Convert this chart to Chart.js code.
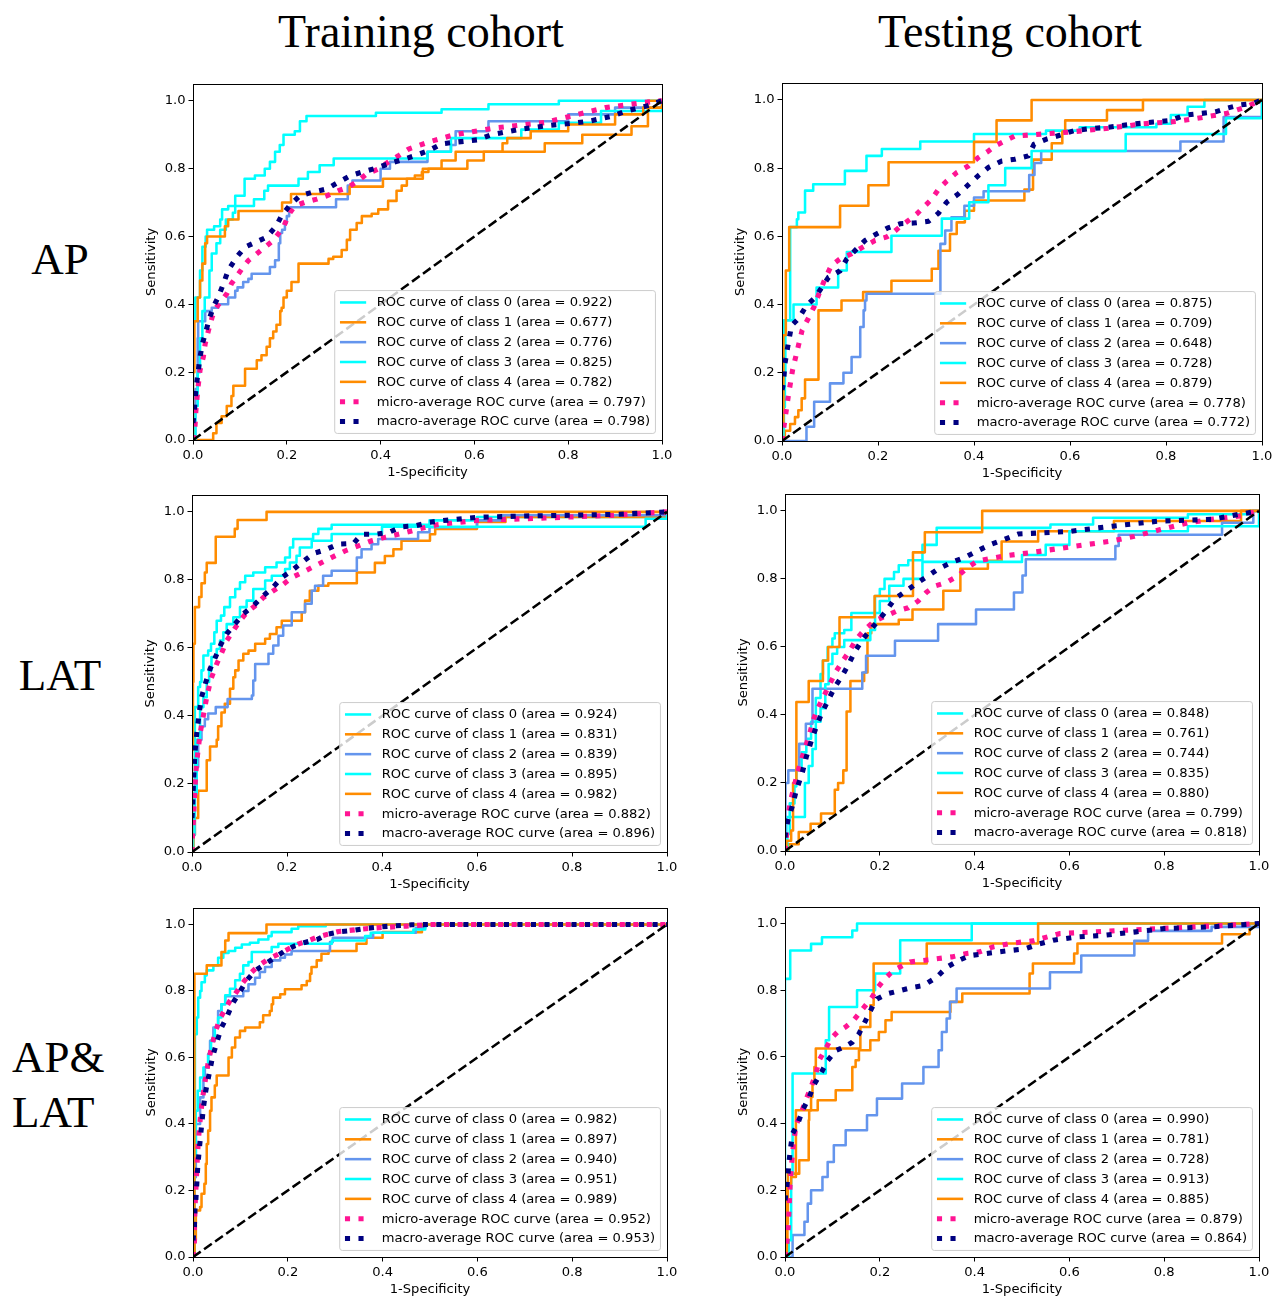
<!DOCTYPE html>
<html>
<head>
<meta charset="utf-8">
<title>ROC curves</title>
<script src="https://cdn.jsdelivr.net/npm/chart.js@4.4.0/dist/chart.umd.min.js"></script>
<style>
  body { margin: 0; background: #fff; }
  #fig { position: relative; width: 1280px; height: 1299px; overflow: hidden; background: #fff; }
  .head, .row { position: absolute; font-family: "Liberation Serif", "Times New Roman", serif; color: #000; white-space: nowrap; }
  .head { font-size: 46px; line-height: 46px; width: 400px; text-align: center; }
  .row { font-size: 45px; line-height: 45px; }
  canvas { position: absolute; }
</style>
</head>
<body>
<div id="fig">
  <div class="head" style="left:221px; top:9px;">Training cohort</div>
  <div class="head" style="left:810px; top:9px;">Testing cohort</div>
  <div class="row" style="left:0; width:120px; text-align:center; top:237px;">AP</div>
  <div class="row" style="left:0; width:120px; text-align:center; top:653px;">LAT</div>
  <div class="row" style="left:12px; top:1030px; line-height:55px;">AP&amp;<br>LAT</div>
</div>
<script>
// tick labels shared by both axes
const TICKS = [0, 0.2, 0.4, 0.6, 0.8, 1.0];

// ---- Training cohort, AP ----
const trainAP0 = [[0,0],[0,0.35],[0.005,0.42],[0.015,0.5],[0.02,0.57],[0.027,0.6],[0.03,0.62],[0.045,0.63],[0.058,0.65],[0.062,0.68],[0.075,0.69],[0.09,0.72],[0.11,0.77],[0.132,0.78],[0.153,0.8],[0.164,0.82],[0.175,0.85],[0.185,0.87],[0.193,0.9],[0.217,0.91],[0.228,0.94],[0.242,0.955],[0.39,0.965],[0.53,0.975],[0.63,0.99],[0.78,1],[1,1]];
const trainAP1 = [[0,0],[0.036,0],[0.043,0.02],[0.05,0.05],[0.061,0.07],[0.072,0.1],[0.082,0.13],[0.086,0.16],[0.111,0.21],[0.136,0.235],[0.146,0.25],[0.157,0.275],[0.164,0.3],[0.171,0.32],[0.178,0.34],[0.186,0.38],[0.189,0.39],[0.193,0.42],[0.2,0.44],[0.21,0.466],[0.225,0.52],[0.289,0.534],[0.299,0.54],[0.317,0.56],[0.328,0.59],[0.335,0.62],[0.349,0.64],[0.36,0.66],[0.381,0.667],[0.395,0.68],[0.416,0.705],[0.434,0.735],[0.445,0.75],[0.456,0.77],[0.473,0.78],[0.488,0.79],[0.502,0.8],[0.585,0.824],[0.62,0.85],[0.75,0.875],[0.83,0.9],[0.935,0.925],[0.97,1],[1,1]];
const trainAP2 = [[0,0],[0.005,0.15],[0.01,0.3],[0.011,0.35],[0.026,0.38],[0.04,0.39],[0.054,0.4],[0.075,0.42],[0.09,0.44],[0.095,0.45],[0.107,0.466],[0.118,0.475],[0.125,0.49],[0.164,0.51],[0.175,0.53],[0.183,0.58],[0.186,0.61],[0.19,0.62],[0.196,0.64],[0.2,0.66],[0.205,0.686],[0.305,0.71],[0.33,0.75],[0.34,0.765],[0.4,0.8],[0.42,0.82],[0.5,0.85],[0.55,0.87],[0.56,0.91],[0.63,0.94],[0.8,0.96],[0.9,0.98],[1,1]];
const trainAP3 = [[0,0],[0.005,0.1],[0.01,0.2],[0.015,0.3],[0.02,0.38],[0.025,0.42],[0.035,0.5],[0.04,0.55],[0.05,0.58],[0.058,0.62],[0.07,0.65],[0.085,0.67],[0.09,0.69],[0.13,0.71],[0.152,0.735],[0.16,0.75],[0.225,0.77],[0.245,0.79],[0.27,0.81],[0.3,0.83],[0.5,0.85],[0.55,0.89],[0.7,0.915],[0.78,0.935],[0.87,0.97],[1,0.98],[1,1]];
const trainAP4 = [[0,0],[0,0.2],[0.003,0.35],[0.01,0.42],[0.015,0.47],[0.02,0.52],[0.026,0.58],[0.03,0.6],[0.068,0.63],[0.075,0.65],[0.097,0.675],[0.19,0.7],[0.209,0.725],[0.334,0.747],[0.405,0.77],[0.49,0.8],[0.53,0.824],[0.56,0.85],[0.66,0.875],[0.67,0.89],[0.72,0.91],[0.8,0.93],[0.9,0.96],[0.96,0.98],[1,1]];
const trainAPMicro = [[0,0],[0.004,0.034],[0.006,0.083],[0.01,0.147],[0.015,0.206],[0.022,0.245],[0.026,0.284],[0.033,0.323],[0.041,0.363],[0.048,0.387],[0.061,0.412],[0.072,0.431],[0.082,0.461],[0.097,0.49],[0.107,0.51],[0.118,0.529],[0.136,0.549],[0.154,0.569],[0.171,0.588],[0.182,0.608],[0.193,0.627],[0.2,0.652],[0.207,0.671],[0.217,0.69],[0.239,0.701],[0.264,0.71],[0.285,0.72],[0.31,0.735],[0.331,0.745],[0.353,0.765],[0.37,0.784],[0.395,0.799],[0.416,0.819],[0.438,0.838],[0.46,0.858],[0.506,0.88],[0.557,0.9],[0.643,0.92],[0.75,0.936],[0.88,0.98],[0.96,0.995],[1,1]];
const trainAPMacro = [[0,0.05],[0.003,0.088],[0.006,0.147],[0.01,0.191],[0.015,0.245],[0.02,0.284],[0.028,0.323],[0.036,0.363],[0.045,0.397],[0.054,0.422],[0.065,0.461],[0.075,0.5],[0.093,0.539],[0.111,0.569],[0.132,0.582],[0.157,0.598],[0.178,0.632],[0.189,0.662],[0.209,0.696],[0.228,0.72],[0.253,0.73],[0.285,0.74],[0.31,0.76],[0.335,0.779],[0.363,0.791],[0.392,0.802],[0.416,0.814],[0.445,0.826],[0.473,0.838],[0.502,0.853],[0.53,0.873],[0.553,0.877],[0.607,0.885],[0.636,0.9],[0.694,0.915],[0.75,0.926],[0.816,0.935],[0.845,0.94],[0.895,0.955],[0.924,0.97],[0.968,0.985],[1,1]];
const trainAPAreas = [0.922, 0.677, 0.776, 0.825, 0.782, 0.797, 0.798];

// ---- Testing cohort, AP ----
const testAP0 = [[0,0],[0.004,0.354],[0.017,0.627],[0.031,0.65],[0.034,0.67],[0.048,0.734],[0.065,0.753],[0.131,0.792],[0.176,0.836],[0.208,0.856],[0.288,0.878],[0.4,0.9],[0.55,0.91],[0.62,0.92],[0.78,0.93],[0.81,0.956],[0.845,0.98],[0.88,1],[1,1]];
const testAP1 = [[0,0],[0.003,0],[0.006,0.03],[0.017,0.05],[0.027,0.07],[0.034,0.09],[0.041,0.125],[0.048,0.18],[0.076,0.383],[0.124,0.412],[0.169,0.437],[0.228,0.47],[0.312,0.505],[0.326,0.558],[0.35,0.607],[0.364,0.641],[0.381,0.675],[0.4,0.705],[0.505,0.737],[0.523,0.825],[0.562,0.873],[0.584,0.907],[0.59,0.94],[0.677,0.97],[0.752,1],[1,1]];
const testAP2 = [[0,0],[0.051,0],[0.051,0.042],[0.067,0.115],[0.1,0.169],[0.128,0.2],[0.145,0.246],[0.163,0.334],[0.17,0.383],[0.173,0.412],[0.176,0.432],[0.33,0.578],[0.34,0.617],[0.353,0.656],[0.38,0.69],[0.4,0.714],[0.42,0.732],[0.515,0.78],[0.526,0.815],[0.54,0.85],[0.83,0.878],[0.92,0.95],[1,1]];
const testAP3 = [[0,0],[0.003,0.1],[0.006,0.2],[0.007,0.354],[0.024,0.4],[0.072,0.45],[0.117,0.5],[0.135,0.554],[0.228,0.602],[0.333,0.652],[0.39,0.7],[0.43,0.75],[0.465,0.8],[0.52,0.85],[0.716,0.9],[0.925,0.946],[1,1]];
const testAP4 = [[0,0],[0,0.05],[0.003,0.31],[0.008,0.5],[0.015,0.627],[0.121,0.69],[0.18,0.75],[0.222,0.817],[0.4,0.877],[0.447,0.94],[0.52,1],[1,1]];
const testAPMicro = [[0,0],[0.003,0.032],[0.006,0.061],[0.013,0.13],[0.022,0.208],[0.031,0.261],[0.042,0.325],[0.055,0.36],[0.067,0.394],[0.076,0.428],[0.09,0.477],[0.103,0.515],[0.121,0.534],[0.145,0.549],[0.169,0.569],[0.194,0.588],[0.218,0.598],[0.228,0.607],[0.249,0.632],[0.263,0.646],[0.281,0.666],[0.298,0.69],[0.312,0.709],[0.326,0.738],[0.343,0.762],[0.364,0.787],[0.388,0.806],[0.409,0.831],[0.43,0.85],[0.444,0.865],[0.465,0.88],[0.485,0.894],[0.609,0.907],[0.68,0.917],[0.752,0.93],[0.824,0.937],[0.882,0.95],[0.925,0.96],[0.968,0.98],[1,1]];
const testAPMacro = [[0,0.15],[0.003,0.168],[0.006,0.226],[0.013,0.285],[0.02,0.339],[0.034,0.358],[0.051,0.397],[0.069,0.421],[0.097,0.48],[0.121,0.499],[0.135,0.534],[0.152,0.558],[0.173,0.588],[0.194,0.605],[0.221,0.625],[0.246,0.637],[0.274,0.639],[0.305,0.644],[0.326,0.668],[0.343,0.7],[0.367,0.724],[0.388,0.751],[0.409,0.778],[0.43,0.802],[0.458,0.821],[0.485,0.826],[0.513,0.836],[0.525,0.87],[0.551,0.885],[0.58,0.897],[0.609,0.91],[0.637,0.915],[0.68,0.92],[0.724,0.928],[0.774,0.935],[0.81,0.94],[0.838,0.955],[0.871,0.96],[0.903,0.965],[0.925,0.975],[0.953,0.985],[0.982,0.99],[1,1]];
const testAPAreas = [0.875, 0.709, 0.648, 0.728, 0.879, 0.778, 0.772];

// ---- Training cohort, LAT ----
const trainLAT0 = [[0,0],[0.003,0.05],[0.006,0.426],[0.013,0.485],[0.017,0.5],[0.02,0.534],[0.024,0.578],[0.034,0.592],[0.04,0.612],[0.047,0.646],[0.052,0.68],[0.061,0.695],[0.068,0.72],[0.08,0.749],[0.091,0.773],[0.101,0.793],[0.112,0.812],[0.129,0.822],[0.154,0.837],[0.178,0.851],[0.196,0.866],[0.206,0.895],[0.213,0.92],[0.255,0.935],[0.266,0.95],[0.294,0.962],[0.5,0.975],[0.6,0.985],[1,1]];
const trainLAT1 = [[0,0],[0.003,0.05],[0.006,0.1],[0.013,0.18],[0.031,0.27],[0.038,0.31],[0.052,0.33],[0.055,0.37],[0.062,0.41],[0.069,0.436],[0.08,0.48],[0.087,0.514],[0.091,0.534],[0.098,0.563],[0.108,0.583],[0.119,0.592],[0.133,0.612],[0.154,0.627],[0.164,0.641],[0.178,0.661],[0.189,0.68],[0.231,0.705],[0.238,0.739],[0.248,0.768],[0.266,0.783],[0.287,0.79],[0.347,0.822],[0.385,0.85],[0.406,0.87],[0.424,0.89],[0.441,0.915],[0.501,0.934],[0.512,0.95],[0.6,0.97],[0.66,0.985],[1,1]];
const trainLAT2 = [[0,0],[0.001,0.05],[0.005,0.172],[0.008,0.25],[0.013,0.33],[0.02,0.37],[0.027,0.39],[0.034,0.407],[0.05,0.426],[0.075,0.45],[0.126,0.46],[0.129,0.504],[0.133,0.553],[0.161,0.583],[0.171,0.607],[0.182,0.636],[0.192,0.666],[0.21,0.705],[0.238,0.73],[0.252,0.768],[0.259,0.783],[0.276,0.812],[0.294,0.827],[0.347,0.866],[0.357,0.89],[0.378,0.905],[0.392,0.92],[0.476,0.94],[0.5,0.955],[0.6,0.975],[0.65,0.99],[1,1]];
const trainLAT3 = [[0,0],[0.002,0.05],[0.005,0.172],[0.01,0.33],[0.017,0.426],[0.024,0.455],[0.031,0.5],[0.036,0.534],[0.041,0.573],[0.052,0.597],[0.059,0.622],[0.066,0.646],[0.073,0.67],[0.087,0.69],[0.101,0.72],[0.115,0.739],[0.129,0.773],[0.154,0.798],[0.168,0.812],[0.196,0.832],[0.206,0.851],[0.22,0.871],[0.227,0.895],[0.252,0.915],[0.294,0.935],[0.4,0.956],[0.955,0.98],[1,1]];
const trainLAT4 = [[0,0],[0,0.3],[0.002,0.5],[0.003,0.612],[0.006,0.72],[0.015,0.75],[0.02,0.79],[0.027,0.822],[0.031,0.85],[0.05,0.927],[0.09,0.95],[0.096,0.976],[0.157,1],[1,1]];
const trainLATMicro = [[0,0],[0.001,0.045],[0.003,0.094],[0.005,0.153],[0.008,0.232],[0.012,0.29],[0.017,0.348],[0.024,0.402],[0.031,0.455],[0.04,0.509],[0.052,0.553],[0.063,0.587],[0.073,0.621],[0.087,0.651],[0.101,0.68],[0.115,0.704],[0.133,0.724],[0.15,0.748],[0.171,0.768],[0.192,0.787],[0.21,0.807],[0.231,0.821],[0.252,0.836],[0.273,0.851],[0.294,0.866],[0.322,0.885],[0.35,0.9],[0.378,0.915],[0.406,0.925],[0.434,0.934],[0.462,0.944],[0.49,0.954],[0.519,0.963],[0.602,0.975],[0.744,0.982],[0.886,0.99],[1,1]];
const trainLATMacro = [[0,0.1],[0.001,0.123],[0.003,0.201],[0.006,0.289],[0.01,0.348],[0.015,0.407],[0.02,0.455],[0.029,0.499],[0.038,0.538],[0.049,0.572],[0.061,0.611],[0.073,0.641],[0.09,0.67],[0.108,0.7],[0.129,0.724],[0.15,0.753],[0.171,0.779],[0.189,0.807],[0.21,0.827],[0.231,0.851],[0.256,0.878],[0.28,0.888],[0.308,0.905],[0.34,0.907],[0.357,0.934],[0.385,0.934],[0.413,0.939],[0.441,0.956],[0.47,0.959],[0.498,0.969],[0.526,0.974],[0.602,0.984],[0.7,0.988],[0.8,0.99],[0.9,0.993],[1,1]];
const trainLATAreas = [0.924, 0.831, 0.839, 0.895, 0.982, 0.882, 0.896];

// ---- Testing cohort, LAT ----
const testLAT0 = [[0,0],[0.003,0.1],[0.01,0.14],[0.02,0.19],[0.024,0.24],[0.035,0.29],[0.045,0.33],[0.055,0.38],[0.065,0.45],[0.075,0.52],[0.08,0.56],[0.09,0.6],[0.1,0.625],[0.105,0.64],[0.125,0.65],[0.14,0.7],[0.19,0.75],[0.2,0.77],[0.21,0.8],[0.23,0.82],[0.24,0.84],[0.26,0.855],[0.29,0.9],[0.32,0.95],[0.56,0.96],[0.65,0.98],[0.85,0.99],[0.98,1],[1,1]];
const testLAT1 = [[0,0],[0.007,0],[0.007,0.02],[0.029,0.056],[0.054,0.08],[0.076,0.11],[0.105,0.18],[0.112,0.2],[0.123,0.237],[0.13,0.41],[0.138,0.5],[0.167,0.525],[0.174,0.64],[0.182,0.667],[0.24,0.68],[0.269,0.71],[0.334,0.765],[0.37,0.83],[0.428,0.853],[0.457,0.91],[0.534,0.94],[0.694,0.97],[0.962,1],[1,1]];
const testLAT2 = [[0,0],[0.001,0.2],[0.007,0.237],[0.03,0.315],[0.044,0.374],[0.058,0.477],[0.163,0.525],[0.171,0.574],[0.232,0.618],[0.323,0.667],[0.403,0.71],[0.483,0.76],[0.501,0.81],[0.508,0.858],[0.697,0.897],[0.704,0.93],[0.922,0.965],[0.988,1],[1,1]];
const testLAT3 = [[0,0],[0.005,0.05],[0.01,0.1],[0.042,0.2],[0.05,0.25],[0.058,0.3],[0.065,0.38],[0.075,0.42],[0.085,0.49],[0.092,0.55],[0.1,0.58],[0.11,0.6],[0.125,0.62],[0.18,0.65],[0.19,0.7],[0.2,0.735],[0.22,0.78],[0.25,0.8],[0.29,0.85],[0.5,0.87],[0.55,0.9],[0.6,0.94],[0.85,0.955],[1,1]];
const testLAT4 = [[0,0],[0.003,0.03],[0.013,0.06],[0.017,0.2],[0.024,0.438],[0.05,0.5],[0.08,0.56],[0.091,0.6],[0.115,0.687],[0.189,0.75],[0.27,0.878],[0.295,0.937],[0.416,1],[1,1]];
const testLATMicro = [[0,0],[0.003,0.042],[0.006,0.101],[0.012,0.15],[0.019,0.188],[0.026,0.227],[0.034,0.266],[0.043,0.305],[0.052,0.344],[0.059,0.383],[0.07,0.422],[0.084,0.461],[0.094,0.49],[0.108,0.529],[0.122,0.559],[0.136,0.588],[0.15,0.622],[0.168,0.651],[0.189,0.676],[0.211,0.69],[0.235,0.705],[0.26,0.715],[0.281,0.735],[0.298,0.76],[0.316,0.779],[0.34,0.789],[0.365,0.809],[0.386,0.834],[0.407,0.853],[0.465,0.868],[0.523,0.878],[0.581,0.89],[0.632,0.9],[0.683,0.91],[0.737,0.925],[0.792,0.945],[0.85,0.965],[0.9,0.975],[0.959,0.985],[1,1]];
const testLATMacro = [[0,0.04],[0.001,0.052],[0.006,0.091],[0.015,0.13],[0.024,0.179],[0.036,0.228],[0.045,0.277],[0.056,0.326],[0.066,0.365],[0.077,0.404],[0.091,0.443],[0.105,0.482],[0.119,0.511],[0.133,0.546],[0.147,0.585],[0.162,0.619],[0.179,0.648],[0.197,0.678],[0.214,0.707],[0.231,0.741],[0.256,0.765],[0.281,0.79],[0.302,0.809],[0.323,0.829],[0.351,0.848],[0.379,0.863],[0.407,0.883],[0.435,0.902],[0.464,0.917],[0.492,0.932],[0.537,0.935],[0.603,0.94],[0.69,0.955],[0.79,0.97],[0.9,0.975],[0.959,0.99],[1,1]];
const testLATAreas = [0.848, 0.761, 0.744, 0.835, 0.880, 0.799, 0.818];

// ---- Training cohort, AP&LAT ----
const trainAll0 = [[0,0],[0.003,0.34],[0.004,0.67],[0.008,0.72],[0.011,0.78],[0.015,0.8],[0.018,0.826],[0.025,0.847],[0.029,0.862],[0.043,0.877],[0.053,0.9],[0.064,0.914],[0.075,0.92],[0.089,0.93],[0.103,0.94],[0.12,0.945],[0.138,0.955],[0.159,0.965],[0.166,0.977],[0.208,0.987],[0.222,0.995],[0.28,1],[1,1]];
const trainAll1 = [[0,0],[0.003,0.05],[0.006,0.14],[0.015,0.15],[0.018,0.19],[0.024,0.22],[0.027,0.28],[0.029,0.34],[0.032,0.38],[0.036,0.44],[0.039,0.48],[0.046,0.516],[0.05,0.546],[0.075,0.6],[0.082,0.63],[0.089,0.66],[0.099,0.68],[0.11,0.69],[0.141,0.706],[0.148,0.727],[0.162,0.74],[0.166,0.76],[0.169,0.78],[0.184,0.79],[0.194,0.805],[0.229,0.817],[0.24,0.83],[0.247,0.852],[0.25,0.872],[0.261,0.892],[0.271,0.912],[0.286,0.92],[0.345,0.942],[0.366,0.96],[0.4,0.977],[0.483,1],[1,1]];
const trainAll2 = [[0,0],[0.002,0.1],[0.003,0.24],[0.006,0.4],[0.015,0.48],[0.022,0.54],[0.025,0.57],[0.032,0.61],[0.036,0.65],[0.043,0.69],[0.053,0.74],[0.06,0.76],[0.068,0.784],[0.106,0.8],[0.117,0.82],[0.131,0.84],[0.141,0.857],[0.152,0.872],[0.166,0.892],[0.184,0.9],[0.194,0.91],[0.208,0.92],[0.289,0.947],[0.295,0.96],[0.38,0.975],[0.47,0.99],[0.49,1],[1,1]];
const trainAll3 = [[0,0],[0.002,0.2],[0.003,0.3],[0.006,0.44],[0.01,0.5],[0.015,0.54],[0.022,0.57],[0.032,0.61],[0.038,0.65],[0.046,0.69],[0.053,0.72],[0.06,0.76],[0.068,0.787],[0.078,0.807],[0.089,0.832],[0.099,0.852],[0.106,0.877],[0.117,0.887],[0.124,0.917],[0.166,0.932],[0.18,0.942],[0.293,0.952],[0.363,0.965],[0.375,0.975],[0.465,0.985],[0.49,1],[1,1]];
const trainAll4 = [[0,0],[0.003,0.852],[0.029,0.877],[0.06,0.917],[0.068,0.952],[0.075,0.974],[0.155,1],[1,1]];
const trainAllMicro = [[0,0],[0.003,0.031],[0.003,0.081],[0.004,0.141],[0.006,0.201],[0.008,0.261],[0.01,0.32],[0.013,0.38],[0.017,0.44],[0.022,0.495],[0.027,0.54],[0.032,0.585],[0.039,0.631],[0.046,0.671],[0.055,0.711],[0.066,0.741],[0.078,0.771],[0.089,0.791],[0.103,0.821],[0.12,0.851],[0.138,0.876],[0.159,0.896],[0.18,0.911],[0.201,0.926],[0.222,0.941],[0.243,0.951],[0.264,0.963],[0.285,0.971],[0.307,0.979],[0.335,0.983],[0.377,0.989],[0.45,0.995],[0.5,1],[1,1]];
const trainAllMacro = [[0,0.05],[0.003,0.091],[0.004,0.141],[0.006,0.171],[0.008,0.221],[0.01,0.271],[0.013,0.32],[0.017,0.38],[0.022,0.45],[0.027,0.5],[0.034,0.55],[0.041,0.6],[0.05,0.645],[0.06,0.69],[0.071,0.721],[0.085,0.766],[0.096,0.791],[0.113,0.831],[0.131,0.861],[0.152,0.881],[0.173,0.901],[0.194,0.921],[0.215,0.936],[0.236,0.946],[0.264,0.956],[0.285,0.971],[0.314,0.979],[0.342,0.983],[0.37,0.989],[0.398,0.993],[0.426,0.996],[0.461,0.999],[0.5,1],[1,1]];
const trainAllAreas = [0.982, 0.897, 0.940, 0.951, 0.989, 0.952, 0.953];

// ---- Testing cohort, AP&LAT ----
const testAll0 = [[0,0],[0,0.834],[0.011,0.919],[0.055,0.939],[0.078,0.959],[0.142,0.979],[0.152,1],[1,1]];
const testAll1 = [[0,0],[0.005,0.1],[0.006,0.25],[0.03,0.29],[0.05,0.41],[0.051,0.44],[0.069,0.47],[0.107,0.5],[0.142,0.57],[0.149,0.59],[0.156,0.62],[0.18,0.65],[0.198,0.675],[0.212,0.71],[0.225,0.735],[0.349,0.765],[0.374,0.79],[0.516,0.85],[0.523,0.88],[0.61,0.91],[0.617,0.94],[0.922,0.968],[0.98,1],[1,1]];
const testAll2 = [[0,0],[0.008,0],[0.016,0.066],[0.041,0.106],[0.048,0.16],[0.055,0.2],[0.079,0.24],[0.09,0.285],[0.103,0.335],[0.128,0.38],[0.173,0.425],[0.194,0.475],[0.247,0.52],[0.292,0.57],[0.324,0.62],[0.331,0.675],[0.341,0.715],[0.348,0.765],[0.362,0.805],[0.559,0.854],[0.625,0.904],[0.737,0.948],[0.766,0.978],[0.9,0.99],[1,1]];
const testAll3 = [[0,0],[0.008,0.05],[0.013,0.25],[0.016,0.55],[0.086,0.65],[0.093,0.75],[0.152,0.8],[0.19,0.85],[0.243,0.95],[0.394,1],[1,1]];
const testAll4 = [[0,0],[0.004,0.22],[0.013,0.24],[0.023,0.44],[0.055,0.48],[0.058,0.52],[0.062,0.57],[0.065,0.625],[0.159,0.69],[0.18,0.755],[0.187,0.88],[0.299,0.94],[0.534,1],[1,1]];
const testAllMicro = [[0,0],[0.004,0.041],[0.007,0.091],[0.009,0.16],[0.011,0.22],[0.014,0.28],[0.018,0.34],[0.023,0.395],[0.034,0.431],[0.044,0.471],[0.055,0.51],[0.065,0.55],[0.072,0.59],[0.086,0.625],[0.097,0.655],[0.111,0.675],[0.128,0.69],[0.145,0.71],[0.159,0.735],[0.173,0.76],[0.184,0.78],[0.194,0.805],[0.208,0.83],[0.222,0.85],[0.236,0.865],[0.264,0.885],[0.296,0.89],[0.324,0.895],[0.352,0.9],[0.383,0.91],[0.411,0.915],[0.439,0.93],[0.474,0.94],[0.502,0.945],[0.523,0.948],[0.58,0.97],[0.654,0.975],[0.719,0.98],[0.79,0.985],[0.864,0.99],[0.937,0.995],[1,1]];
const testAllMacro = [[0,0.17],[0.004,0.211],[0.007,0.261],[0.011,0.32],[0.016,0.37],[0.027,0.4],[0.037,0.44],[0.051,0.479],[0.062,0.519],[0.075,0.549],[0.09,0.589],[0.107,0.619],[0.124,0.629],[0.142,0.644],[0.156,0.669],[0.17,0.709],[0.184,0.749],[0.194,0.774],[0.215,0.789],[0.243,0.799],[0.271,0.809],[0.292,0.814],[0.32,0.839],[0.341,0.869],[0.366,0.889],[0.39,0.904],[0.418,0.909],[0.446,0.914],[0.474,0.919],[0.506,0.924],[0.537,0.939],[0.566,0.95],[0.617,0.96],[0.675,0.965],[0.74,0.975],[0.8,0.985],[0.9,0.99],[1,1]];
const testAllAreas = [0.990, 0.781, 0.728, 0.913, 0.885, 0.879, 0.864];

// pixel box of each axes: [left(x=0), right(x=1), top(y=1.05), bottom(y=0)]
const panels = [
  { curves: [trainAP0, trainAP1, trainAP2, trainAP3, trainAP4, trainAPMicro, trainAPMacro], areas: trainAPAreas, box: [193, 662, 83, 440] },
  { curves: [testAP0, testAP1, testAP2, testAP3, testAP4, testAPMicro, testAPMacro], areas: testAPAreas, box: [782, 1262, 82, 441] },
  { curves: [trainLAT0, trainLAT1, trainLAT2, trainLAT3, trainLAT4, trainLATMicro, trainLATMacro], areas: trainLATAreas, box: [192, 667, 494, 852] },
  { curves: [testLAT0, testLAT1, testLAT2, testLAT3, testLAT4, testLATMicro, testLATMacro], areas: testLATAreas, box: [785, 1259, 493, 851] },
  { curves: [trainAll0, trainAll1, trainAll2, trainAll3, trainAll4, trainAllMicro, trainAllMacro], areas: trainAllAreas, box: [193, 667, 907, 1257] },
  { curves: [testAll0, testAll1, testAll2, testAll3, testAll4, testAllMicro, testAllMacro], areas: testAllAreas, box: [785, 1259, 906, 1257] }
];

const CLASS_COLORS = ['#00ffff', '#ff8c00', '#6495ed', '#00ffff', '#ff8c00'];
const FS = 13.1;            // 10pt text
const LW = 2.55;            // 2pt lines
const DOT_LW = 5.1;         // 4pt dotted lines
const FONT = 'DejaVu Sans';

// space reserved round the axes box inside each canvas
const PAD_L = 60, PAD_T = 10, PAD_R = 15, PAD_B = 45;

Chart.defaults.font.family = FONT;

const toXY = pts => pts.map(p => ({ x: p[0], y: p[1] }));

// axes frame drawn above the curves, like matplotlib spines
const framePlugin = {
  id: 'frame',
  afterDatasetsDraw(chart) {
    const { ctx, chartArea: a } = chart;
    ctx.save();
    ctx.strokeStyle = '#000';
    ctx.lineWidth = 1;
    ctx.strokeRect(Math.round(a.left) + 0.5, Math.round(a.top) + 0.5, Math.round(a.right - a.left), Math.round(a.bottom - a.top));
    ctx.restore();
  }
};

// legend in lower right, semi-transparent box
const legendPlugin = {
  id: 'rocLegend',
  afterDraw(chart) {
    const { ctx, chartArea: a } = chart;
    const items = chart.data.datasets.filter(d => d.label);
    const pad = 0.4 * FS, handle = 2 * FS, gap = 0.8 * FS, textH = 13.3, spacing = 0.5 * FS;
    ctx.save();
    ctx.font = FS + 'px "' + FONT + '"';
    let maxW = 0;
    items.forEach(d => { maxW = Math.max(maxW, ctx.measureText(d.label).width); });
    const w = pad + handle + gap + maxW + pad;
    const h = 2 * pad + items.length * textH + (items.length - 1) * spacing;
    const x = a.right - 0.5 * FS - w;
    const y = a.bottom - 0.5 * FS - h;
    const r = 0.2 * FS;
    ctx.beginPath();
    ctx.moveTo(x + r, y);
    ctx.arcTo(x + w, y, x + w, y + h, r);
    ctx.arcTo(x + w, y + h, x, y + h, r);
    ctx.arcTo(x, y + h, x, y, r);
    ctx.arcTo(x, y, x + w, y, r);
    ctx.closePath();
    ctx.fillStyle = 'rgba(255,255,255,0.8)';
    ctx.fill();
    ctx.strokeStyle = '#cccccc';
    ctx.lineWidth = 1;
    ctx.stroke();
    items.forEach((d, i) => {
      const cy = y + pad + i * (textH + spacing) + textH / 2;
      ctx.beginPath();
      ctx.setLineDash(d.borderDash || []);
      ctx.lineCap = 'butt';
      ctx.strokeStyle = d.borderColor;
      ctx.lineWidth = d.borderWidth;
      ctx.moveTo(x + pad, cy);
      ctx.lineTo(x + pad + handle, cy);
      ctx.stroke();
      ctx.setLineDash([]);
      ctx.fillStyle = '#000';
      ctx.textBaseline = 'middle';
      ctx.textAlign = 'left';
      ctx.fillText(d.label, x + pad + handle + gap, cy + 0.5);
    });
    ctx.restore();
  }
};

function axisOptions(min, max, title, titlePad, fit) {
  return {
    type: 'linear',
    min: min,
    max: max,
    afterBuildTicks: s => { s.ticks = TICKS.map(v => ({ value: v })); },
    afterFit: fit,
    grid: { drawOnChartArea: false, drawTicks: true, tickLength: 4.5, color: '#000', tickColor: '#000', tickWidth: 1 },
    border: { display: false },
    ticks: { autoSkip: false, maxRotation: 0, padding: 3, color: '#000', font: { family: FONT, size: FS }, callback: v => v.toFixed(1) },
    title: { display: true, text: title, color: '#000', font: { family: FONT, size: FS }, padding: titlePad }
  };
}

const fig = document.getElementById('fig');

panels.forEach(p => {
  const [L, R, T, B] = p.box;
  const cw = R - L + PAD_L + PAD_R;
  const ch = B - T + PAD_T + PAD_B;
  const canvas = document.createElement('canvas');
  canvas.width = cw;
  canvas.height = ch;
  canvas.style.left = (L - PAD_L) + 'px';
  canvas.style.top = (T - PAD_T) + 'px';
  canvas.style.width = cw + 'px';
  canvas.style.height = ch + 'px';
  fig.appendChild(canvas);

  const datasets = [];
  p.curves.slice(0, 5).forEach((pts, i) => {
    datasets.push({
      label: 'ROC curve of class ' + i + ' (area = ' + p.areas[i].toFixed(3) + ')',
      data: toXY(pts),
      borderColor: CLASS_COLORS[i],
      borderWidth: LW,
      stepped: 'before',
      borderJoinStyle: 'round'
    });
  });
  datasets.push({
    label: 'micro-average ROC curve (area = ' + p.areas[5].toFixed(3) + ')',
    data: toXY(p.curves[5]),
    borderColor: '#ff1493',
    borderWidth: DOT_LW,
    borderDash: [DOT_LW, 1.65 * DOT_LW]
  });
  datasets.push({
    label: 'macro-average ROC curve (area = ' + p.areas[6].toFixed(3) + ')',
    data: toXY(p.curves[6]),
    borderColor: '#000080',
    borderWidth: DOT_LW,
    borderDash: [DOT_LW, 1.65 * DOT_LW]
  });
  datasets.push({
    label: '',
    data: [{ x: 0, y: 0 }, { x: 1, y: 1 }],
    borderColor: '#000',
    borderWidth: LW,
    borderDash: [3.7 * LW, 1.6 * LW]
  });
  // first plotted sits at the bottom
  datasets.forEach((d, i) => {
    d.order = datasets.length - i;
    d.pointRadius = 0;
    d.fill = false;
    d.tension = 0;
  });

  new Chart(canvas, {
    type: 'line',
    data: { datasets: datasets },
    options: {
      responsive: false,
      animation: false,
      devicePixelRatio: 1,
      layout: { padding: { left: 0, top: PAD_T, right: PAD_R, bottom: 0 } },
      plugins: { legend: { display: false }, tooltip: { enabled: false } },
      scales: {
        x: axisOptions(0, 1, '1-Specificity', { top: 0, bottom: 4.3 }, s => { s.height = PAD_B; }),
        y: axisOptions(0, 1.05, 'Sensitivity', { top: 10.3, bottom: 0 }, s => { s.width = PAD_L; })
      }
    },
    plugins: [framePlugin, legendPlugin]
  });
});
</script>
</body>
</html>
